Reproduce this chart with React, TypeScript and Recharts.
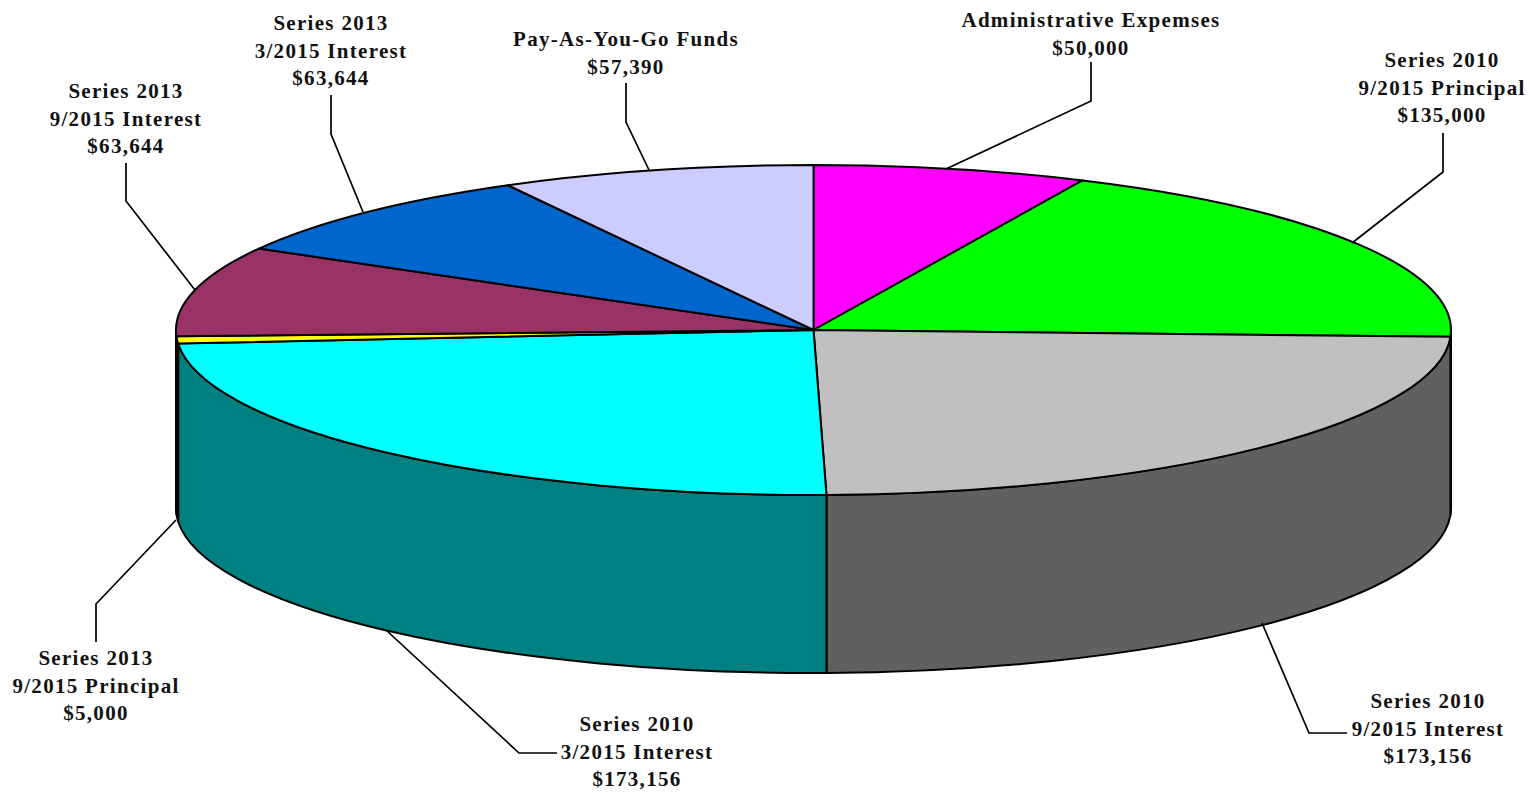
import React from 'react'
import { PieChart, Pie } from 'recharts'

const names = [
  ['Administrative Expemses'],
  ['Series 2010', '9/2015 Principal'],
  ['Series 2010', '9/2015 Interest'],
  ['Series 2010', '3/2015 Interest'],
  ['Series 2013', '9/2015 Principal'],
  ['Series 2013', '9/2015 Interest'],
  ['Series 2013', '3/2015 Interest'],
  ['Pay-As-You-Go Funds'],
]
const values = [50000, 135000, 173156, 173156, 5000, 63644, 63644, 57390]

const TOP_COLORS = ['#ff00ff', '#00ff00', '#c0c0c0', '#00ffff', '#ffff00', '#993366', '#0066cc', '#ccccff']
const WALL_COLORS = ['#800080', '#008000', '#606060', '#008080', '#808000', '#4d1a33', '#003366', '#666680']

// label text centre, first baseline, then the leader line
const LABEL_LAYOUT = [
  { x: 1091, y: 27, line: '1091,62 1091,101 946,169' },
  { x: 1442, y: 67, line: '1443,133 1443,172 1352,243' },
  { x: 1428, y: 708, line: '1262,623 1309,733 1347,733' },
  { x: 637, y: 731, line: '386,630 519,753 557,753' },
  { x: 96, y: 665, line: '176,520 96,604 96,642' },
  { x: 126, y: 98, line: '126,163 126,201 195,290' },
  { x: 331, y: 30, line: '331,95 331,134 363,212' },
  { x: 626, y: 46, line: '626,83 626,122 649,170' },
]

const CX = 813.5
const CY = 330
const RX = 637.5
const RY = 165
const DEPTH = 178
const RATIO = RY / RX

const data = values.map((value, i) => ({
  name: names[i],
  value,
  fill: TOP_COLORS[i],
  wall: WALL_COLORS[i],
}))

const rad = (a: number) => (a * Math.PI) / 180
const px = (cx: number, r: number, a: number) => cx + r * Math.cos(rad(a))
const py = (cy: number, r: number, a: number) => cy - r * RATIO * Math.sin(rad(a))

const TopSlice = (props: any) => {
  const { cx, cy, outerRadius: r, startAngle, endAngle, fill } = props
  const large = startAngle - endAngle > 180 ? 1 : 0
  const d = `M${cx},${cy} L${px(cx, r, startAngle)},${py(cy, r, startAngle)} A${r},${r * RATIO} 0 ${large} 1 ${px(cx, r, endAngle)},${py(cy, r, endAngle)} Z`
  return <path d={d} fill={fill} stroke="#000" strokeWidth={2} strokeLinejoin="round" />
}

// side of the disc, only the part facing the viewer (angles 0 to -180)
const WallSlice = (props: any) => {
  const { cx, cy, outerRadius: r, startAngle, endAngle, wall } = props
  const a0 = Math.min(startAngle, 0)
  const a1 = Math.max(endAngle, -180)
  if (a0 <= a1) return null
  const ry = r * RATIO
  const x0 = px(cx, r, a0)
  const y0 = py(cy, r, a0)
  const x1 = px(cx, r, a1)
  const y1 = py(cy, r, a1)
  const d = `M${x0},${y0} A${r},${ry} 0 0 1 ${x1},${y1} L${x1},${y1 + DEPTH} A${r},${ry} 0 0 0 ${x0},${y0 + DEPTH} Z`
  return <path d={d} fill={wall} stroke="#000" strokeWidth={2} strokeLinejoin="round" />
}

const renderLabel = (props: any) => {
  const layout = LABEL_LAYOUT[props.index]
  const lines = [...names[props.index], `$${values[props.index].toLocaleString('en-US')}`]
  return (
    <g key={props.index}>
      <polyline points={layout.line} fill="none" stroke="#000" strokeWidth={1.7} />
      <text
        x={layout.x}
        y={layout.y}
        textAnchor="middle"
        fontFamily="'Liberation Serif', serif"
        fontWeight="bold"
        fontSize={21}
        letterSpacing={1.3}
        fill="#111"
      >
        {lines.map((t, i) => (
          <tspan key={i} x={layout.x} dy={i === 0 ? 0 : 27.6}>
            {t}
          </tspan>
        ))}
      </text>
    </g>
  )
}

const App = () => (
  <div style={{ position: 'absolute', left: 0, top: 0, background: '#fff' }}>
    <PieChart width={1530} height={793} margin={{ top: 0, right: 0, bottom: 0, left: 0 }}>
      <Pie
        data={data}
        dataKey="value"
        cx={CX}
        cy={CY}
        outerRadius={RX}
        startAngle={90}
        endAngle={-270}
        stroke="#000"
        shape={WallSlice}
        isAnimationActive={false}
      />
      <Pie
        data={data}
        dataKey="value"
        cx={CX}
        cy={CY}
        outerRadius={RX}
        startAngle={90}
        endAngle={-270}
        stroke="#000"
        shape={TopSlice}
        label={renderLabel}
        labelLine={false}
        isAnimationActive={false}
      />
    </PieChart>
  </div>
)

export default App
